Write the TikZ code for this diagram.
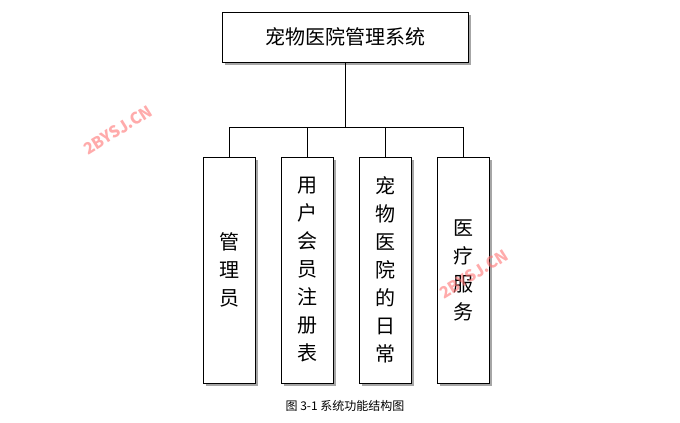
\documentclass[tikz,border=0pt]{standalone}
\usepackage{fontspec}
\setmainfont{Noto Sans CJK SC}
\usetikzlibrary{shadows}
\tikzset{
	box/.style={draw, fill=white, line width=0.6pt, drop shadow={shadow xshift=2.5pt, shadow yshift=-2.5pt, fill=gray!70, opacity=1}},
	wmark/.style={text=red!55, font=\bfseries\large, rotate=32, opacity=0.6}
}
\begin{document}
\begin{tikzpicture}[x=0.75pt, y=-0.75pt]
	\useasboundingbox (0, 0) rectangle (680, 423);
	\node[box, minimum width=184.5pt, minimum height=37.5pt, font=\fontsize{15}{18}\selectfont] (top) at (345, 37) {宠物医院管理系统};

	\foreach \name/\x/\txt in {b1/229/{管\\理\\员}, b2/307/{用\\户\\会\\员\\注\\册\\表}, b3/385/{宠\\物\\医\\院\\的\\日\\常}, b4/463/{医\\疗\\服\\务}}
		\node[box, minimum width=39pt, minimum height=169.5pt, align=center, font=\fontsize{15}{21}\selectfont] (\name) at (\x, 270) {\txt};

	\coordinate (join) at (345, 127);
	\draw[line width=0.6pt] (top.south) -- (join);
	\draw[line width=0.6pt] (b1.north) -- (229, 127) -- (463, 127) -- (b4.north);
	\draw[line width=0.6pt] (b2.north) -- (307, 127);
	\draw[line width=0.6pt] (b3.north) -- (385, 127);

	\node[font=\fontsize{9}{11}\selectfont] (cap) at (345, 406) {图 3-1 系统功能结构图};

	\node[wmark] (wm1) at (118, 130) {2BYSJ.CN};
	\node[wmark] (wm2) at (474, 274) {2BYSJ.CN};
\end{tikzpicture}
\end{document}
